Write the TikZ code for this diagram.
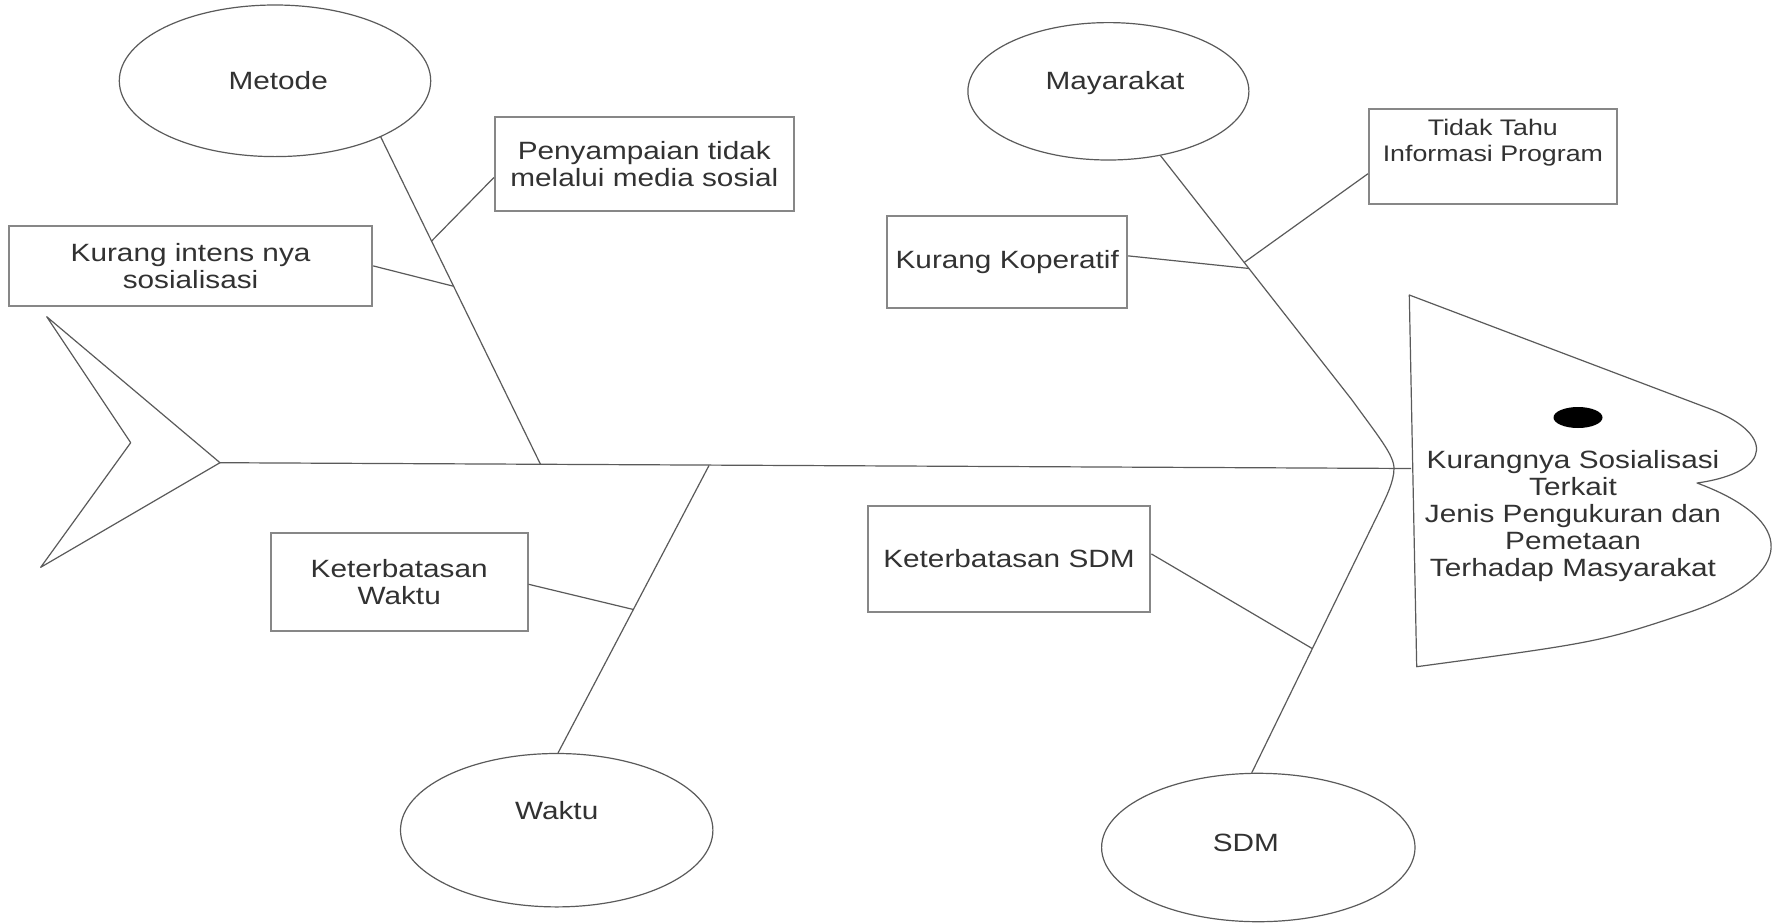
\documentclass[tikz,border=0pt]{standalone}
\usepackage{fontspec}
\setmainfont{Liberation Sans}[FakeStretch=1.19]
\usetikzlibrary{shapes.geometric}
\definecolor{linec}{RGB}{90,90,90}
\definecolor{boxc}{RGB}{135,135,135}
\definecolor{txtc}{RGB}{50,50,50}
\newcommand{\mfont}{\fontsize{12.5}{13.6}\selectfont}
\newcommand{\sfontx}{\fontsize{11.25}{13}\selectfont}
\begin{document}
\begin{tikzpicture}[x=0.5pt,y=-0.5pt,
 bone/.style={draw=linec,line width=0.6pt,line join=round},
 box/.style={draw=boxc,line width=1pt,rectangle,inner sep=0pt,align=center,font=\mfont,text=txtc},
 oval/.style={draw=linec,line width=0.6pt,ellipse,inner sep=0pt},
 lbl/.style={font=\mfont,text=txtc,align=center,inner sep=0pt},
 smalllbl/.style={font=\sfontx,text=txtc,align=center,inner sep=0pt}]
\useasboundingbox (0,0) rectangle (1774,922);
\fill[white] (0,0) rectangle (1774,922);

% ellipses (categories)
\node[oval,minimum width=155.7pt,minimum height=75.8pt,label={[lbl,xshift=1.6pt]center:Metode}] (metode) at (275,80.8) {};
\node[oval,minimum width=140.5pt,minimum height=68.7pt,label={[lbl,xshift=3.3pt,yshift=4.2pt]center:Mayarakat}] (maya) at (1108.4,91.3) {};
\node[oval,minimum width=156.2pt,minimum height=76.7pt,label={[lbl,yshift=10pt]center:Waktu}] (waktu) at (556.7,830.2) {};
\node[oval,minimum width=156.7pt,minimum height=74.2pt,label={[lbl,xshift=-6.2pt,yshift=2.1pt]center:SDM}] (sdm) at (1258.3,847.5) {};

% cause boxes
\node[box,minimum width=149.4pt,minimum height=46.95pt] (pen) at (644.3,164.35) {Penyampaian tidak\\melalui media sosial};
\node[box,minimum width=181.6pt,minimum height=39.6pt] (kin) at (190.6,265.9) {Kurang intens nya\\sosialisasi};
\node[box,minimum width=128.3pt,minimum height=49.3pt] (kw) at (399.2,582) {Keterbatasan\\Waktu};
\node[box,minimum width=119.85pt,minimum height=46.1pt] (kk) at (1007.25,262.2) {Kurang Koperatif};
\node[box,minimum width=123.9pt,minimum height=47.55pt,label={[smalllbl,yshift=6.6pt]center:{Tidak Tahu\\Informasi Program}}] (tt) at (1492.9,156.15) {};
\node[box,minimum width=141.4pt,minimum height=53.2pt] (ks) at (1009,558.9) {Keterbatasan SDM};

% skeleton coordinates
\coordinate (tailU) at (46.7,316.7);
\coordinate (tailN) at (130.7,442.7);
\coordinate (tailL) at (40.7,567.3);
\coordinate (sp0) at (220,462.7);
\coordinate (sp1) at (1411,468.5);
\coordinate (vtx) at (1394,468.3);
\coordinate (jm) at (540.5,464.3);
\coordinate (jw) at (709,465.5);
\coordinate (mb) at (1352,400);
\coordinate (sb) at (1380,510);

\path (metode.-28) -- (jm) coordinate[pos=0.318] (jpen) coordinate[pos=0.456] (jkin);
\path (jw) -- (waktu.89) coordinate[pos=0.501] (jkw);
\path (maya.-51.5) -- (mb) coordinate[pos=0.4616] (jkk) coordinate[pos=0.437] (jtt);
\path (sb) -- (sdm.95) coordinate[pos=0.5275] (jks);

% tail and spine
\draw[bone] (tailU) -- (sp0) -- (tailL) -- (tailN) -- cycle;
\draw[bone] (sp0) -- (sp1);

% head
\draw[bone] (1409.3,295) coordinate (hA) -- (1705,407)
  .. controls (1775,432) and (1775,472) .. (1697,483) coordinate (hN)
  .. controls (1797,520) and (1797,575) .. (1690,612)
  .. controls (1600,642) .. (1416.7,666.7) coordinate (hB) -- cycle;
\node[fill=black,ellipse,minimum width=24.5pt,minimum height=10.5pt,inner sep=0pt] (eye) at (1578,417.5) {};
\node[lbl] (headT) at (1573,516) {Kurangnya Sosialisasi\\Terkait\\Jenis Pengukuran dan\\Pemetaan\\Terhadap Masyarakat};

% main bones
\draw[bone] (metode.-28) -- (jm);
\draw[bone] (jw) -- (waktu.89);
\draw[bone] (maya.-51.5) -- (mb) .. controls (1378,436) and (1394,455) .. (vtx);
\draw[bone] (vtx) .. controls (1394,482) and (1386,497) .. (sb) -- (sdm.95);

% sub-branches
\draw[bone] (pen.185) -- (jpen);
\draw[bone] (kin.east) -- (jkin);
\draw[bone] (kw.-1) -- (jkw);
\draw[bone] (kk.3) -- (jkk);
\draw[bone] (tt.188.6) -- (jtt);
\draw[bone] (ks.2.5) -- (jks);
\end{tikzpicture}
\end{document}
